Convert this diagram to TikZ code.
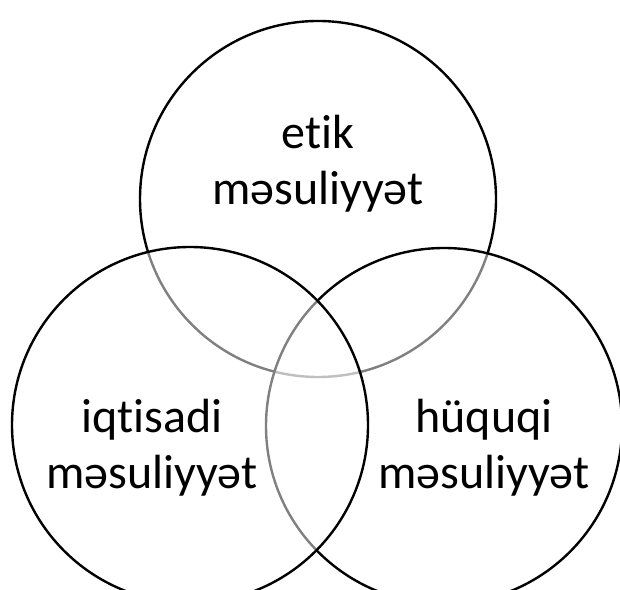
\documentclass[tikz,border=0pt]{standalone}
\usepackage{fontspec}
\setmainfont{Carlito}[Ligatures={NoCommon}, RawFeature={-liga}]
\begin{document}
\begin{tikzpicture}[x=1pt, y=1pt,
    ring/.style={circle, draw=black, line width=2.4pt, fill=white, fill opacity=0.5, draw opacity=1, minimum size=356pt, inner sep=0pt},
    label/.style={align=center, anchor=base, font=\fontsize{48}{56}\selectfont}]
  \useasboundingbox (0,0) rectangle (620,589);
  \node[ring] (top)   at (318,390) {};
  \node[ring] (right) at (444,163) {};
  \node[ring] (left)  at (190,164) {};
  \node[label] (etik)     at (318,384) {etik\\məsuliyyət};
  \node[label] (iqtisadi) at (152,101) {iqtisadi\\məsuliyyət};
  \node[label] (huquqi)   at (484,101) {hüquqi\\məsuliyyət};
\end{tikzpicture}
\end{document}
